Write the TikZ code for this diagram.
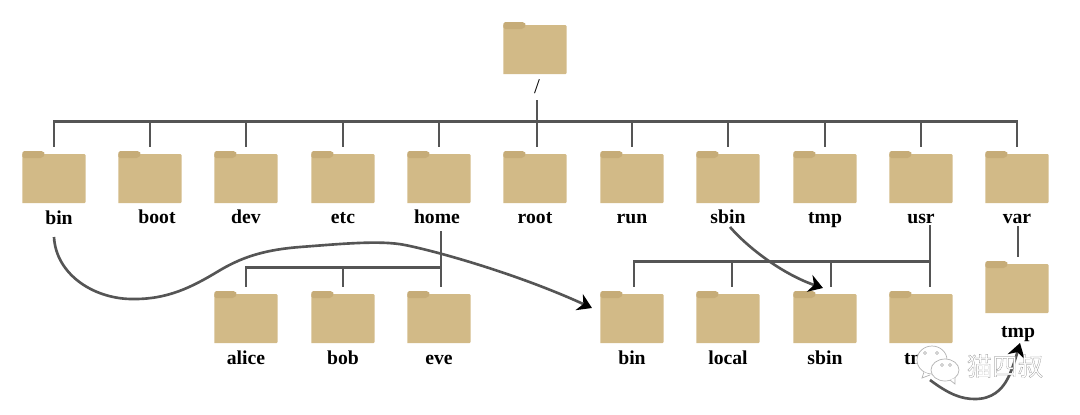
\documentclass[tikz,border=0pt]{standalone}
\usepackage{fontspec}
\setmainfont{Liberation Serif}
\newfontfamily\cjk[FakeBold=0.6]{Noto Sans CJK SC}
\usetikzlibrary{arrows.meta}
\definecolor{folderbody}{HTML}{D2BA87}
\definecolor{foldertab}{HTML}{C6AC78}
\definecolor{linegray}{HTML}{555555}
\tikzset{
    folder/.style={inner sep=0pt, outer sep=0.09cm, minimum width=1.27cm, minimum height=1.04cm,
        path picture={
            \fill [folderbody] (path picture bounding box.south west) -- ++(0,-49) [rounded corners=1pt] -- ++(64,0) -- ++(0,49) [sharp corners] -- cycle;
            \fill [foldertab, rounded corners=1pt] (path picture bounding box.north west) -- ++(21,0) -- ++(2,3) -- ++(-3,4) -- ++(-20,0) -- cycle;
        }},
    dirname/.style={font=\fontsize{11.2pt}{12pt}\selectfont\bfseries, inner sep=0pt, anchor=base},
    link/.style={draw=linegray, line width=1.7pt},
    jump/.style={draw=linegray, line width=1.5pt, -{Stealth[length=8pt,width=10pt,black]}},
    bubble/.style={draw=gray!60, fill=white, line width=0.4pt},
    eye/.style={draw=gray!70, fill=white, line width=0.3pt}
}
\begin{document}
\begin{tikzpicture}[x=0.02cm,y=-0.02cm]
    \useasboundingbox (0,0) rectangle (1080,414);
    % top level
    \node [folder] (top) at (535,48) {};
    \node [font=\fontsize{12pt}{12pt}\selectfont] (slash) at (537,87) {/};
    \coordinate (hub) at (537,121);
    \foreach \n/\x/\lx/\ly in {bin/54/59/224,boot/150/157/223,dev/246/246/223,etc/343/343/223,home/439/437/223,run/632/632/223,sbin/728/728/223,tmp/825/825/223,usr/921/921/223,var/1017/1017/223} {
        \node [folder] (f\n) at (\x,177) {};
        \node [dirname] (l\n) at (\lx,\ly) {\n};
        \draw [link] (f\n.north) |- (hub);
    }
    \node [folder] (froot) at (535,177) {};
    \node [dirname] (lroot) at (535,223) {root};
    \coordinate (hubtop) at (537,100);
    \draw [link] (hubtop) -- (froot.north -| hub);
    % home
    \foreach \n/\x in {alice/246,bob/343,eve/439} {
        \node [folder] (f\n) at (\x,317) {};
        \node [dirname] (l\n) at (\x,364) {\n};
    }
    \coordinate (homebus) at (441,267);
    \coordinate (hometop) at (441,231);
    \draw [link] (hometop) -- (feve.north -| homebus);
    \draw [link] (falice.north) |- (homebus);
    \draw [link] (fbob.north) |- (homebus);
    % usr
    \foreach \n/\lab/\x in {ubin/bin/632,local/local/728,usbin/sbin/825,utmp/tmp/921} {
        \node [folder] (f\n) at (\x,317) {};
        \node [dirname] (l\n) at (\x,364) {\lab};
    }
    \coordinate (usrbus) at (930,261);
    \coordinate (usrtop) at (930,225);
    \draw [link] (usrtop) -- (futmp.north -| usrbus);
    \draw [link] ([xshift=0.04cm]fubin.north) |- (usrbus);
    \draw [link] ([xshift=0.08cm]flocal.north) |- (usrbus);
    \draw [link] ([xshift=0.12cm]fusbin.north) |- (usrbus);
    % var
    \node [folder] (fvtmp) at (1017,287) {};
    \node [dirname] (lvtmp) at (1018,337) {tmp};
    \coordinate (vartop) at (1018,226);
    \draw [link] (vartop) -- (fvtmp.north -| vartop);
    % links
    \coordinate (binstart) at (54,237);
    \coordinate (binend) at (592,308);
    \coordinate (sbinstart) at (730,227);
    \coordinate (sbinend) at (823,288);
    \coordinate (tmpstart) at (930,380);
    \coordinate (tmpend) at (1020,343);
    \draw [jump] (binstart) .. controls (56,275) and (95,300) .. (135,299)
        .. controls (168,299) and (192,287) .. (217,272)
        .. controls (240,258) and (262,250) .. (300,247)
        .. controls (340,244) and (380,240) .. (405,245)
        .. controls (440,252) and (520,275) .. (binend);
    \draw [jump] (sbinstart) .. controls (750,250) and (785,275) .. (sbinend);
    \draw [jump] (tmpstart) .. controls (950,395) and (962,399) .. (975,399)
        .. controls (992,399) and (1002,390) .. (1008,378)
        .. controls (1012,370) and (1016,357) .. (tmpend);
    % watermark
    \draw [bubble] (932,360) ellipse (15 and 14);
    \draw [bubble] (945,370) ellipse (14 and 11);
    \draw [bubble] (924,372) -- (922,378) -- (930,375);
    \draw [bubble] (950,380) -- (955,384) -- (955,378);
    \foreach \ex/\ey in {925/353,937/353,942/365,950/365}
        \draw [eye] (\ex,\ey) circle (1.6);
    \node [font=\cjk\fontsize{14.5pt}{15pt}\selectfont, inner sep=0pt, text=white] (mark) at (1005,366) {\special{pdf:code 0.45 0.45 0.45 RG}猫四叔};
\end{tikzpicture}
\end{document}
